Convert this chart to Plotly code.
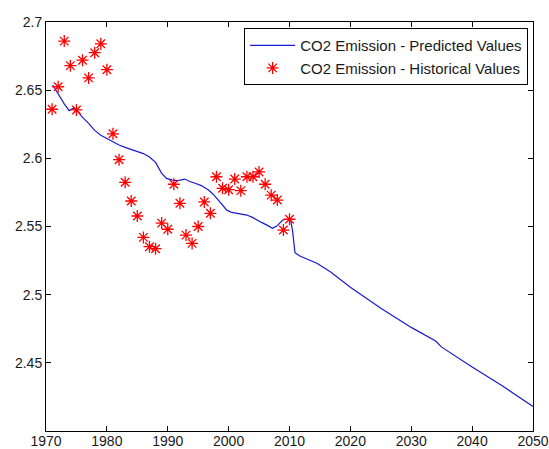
import plotly.graph_objects as go

# Historical CO2 emission values
hist_years = list(range(1971, 2011))
hist_values = [
    2.636, 2.6525, 2.686, 2.668, 2.6355, 2.672, 2.659, 2.6775, 2.684, 2.665,
    2.618, 2.599, 2.5824, 2.5687, 2.5577, 2.542, 2.5352, 2.5337, 2.5525, 2.548,
    2.581, 2.567, 2.5437, 2.5376, 2.550, 2.568, 2.5597, 2.5865, 2.578, 2.577,
    2.5848, 2.5763, 2.5865, 2.5865, 2.590, 2.581, 2.573, 2.5694, 2.5474, 2.5553,
]

# Predicted CO2 emission values
pred_years = [
    1971.1, 1972, 1973, 1973.8, 1974.5, 1975, 1976, 1977, 1978, 1979, 1980,
    1981, 1982, 1983, 1984, 1985, 1986, 1987, 1988, 1989, 1989.8, 1990.8,
    1991.7, 1992.8, 1993.6, 1994.5, 1995.5, 1996.7, 1997.5, 1998.3, 1999, 1999.7,
    2000.5, 2001.3, 2002, 2003, 2004, 2004.6, 2005.4, 2006.3, 2007.2, 2007.9,
    2008.9, 2009.5, 2010.2, 2010.5, 2010.9, 2011.7, 2014.5, 2016.7, 2020, 2025,
    2030, 2034, 2035, 2040, 2045, 2050,
]
pred_values = [
    2.6538, 2.647, 2.640, 2.635, 2.6367, 2.6355, 2.6300, 2.6257, 2.6205, 2.617, 2.6145,
    2.6125, 2.6098, 2.608, 2.6065, 2.605, 2.6035, 2.601, 2.597, 2.589, 2.5853, 2.5840,
    2.5836, 2.5848, 2.5830, 2.5817, 2.5800, 2.5768, 2.5735, 2.5694, 2.5655, 2.562,
    2.5603, 2.5597, 2.5592, 2.5584, 2.5565, 2.5548, 2.5530, 2.551, 2.5487, 2.5503,
    2.5548, 2.5553, 2.5543, 2.547, 2.5308, 2.5283, 2.523, 2.5168, 2.5055, 2.490,
    2.4760, 2.4660, 2.4615, 2.4470, 2.4330, 2.418,
]

x_ticks = [1970, 1980, 1990, 2000, 2010, 2020, 2030, 2040, 2050]
y_ticks = [2.45, 2.5, 2.55, 2.6, 2.65, 2.7]
y_tick_text = ["2.45", "2.5", "2.55", "2.6", "2.65", "2.7"]

fig = go.Figure()
fig.add_trace(go.Scatter(
    x=pred_years, y=pred_values, mode="lines",
    name="CO2 Emission - Predicted Values",
    line=dict(color="#1a1ad0", width=1.2),
))
fig.add_trace(go.Scatter(
    x=hist_years, y=hist_values, mode="markers",
    name="CO2 Emission - Historical Values",
    marker=dict(symbol="asterisk-open", size=10, color="#ff0000",
                line=dict(color="#ff0000", width=1.3)),
))

axis_common = dict(
    showgrid=False, zeroline=False, showline=True, linecolor="#000000",
    linewidth=1, mirror="ticks", ticks="inside", ticklen=5, tickcolor="#000000",
    automargin=False,
    tickfont=dict(family="Liberation Sans, Arial, sans-serif", size=14, color="#1a1a1a"),
)

fig.update_xaxes(range=[1970, 2050], tickvals=x_ticks, ticklabelstandoff=-3, **axis_common)
fig.update_yaxes(range=[2.4, 2.7], tickvals=y_ticks, ticktext=y_tick_text, **axis_common)

fig.update_layout(
    width=549, height=449,
    margin=dict(l=46, r=16, t=22, b=18, autoexpand=False),
    paper_bgcolor="#ffffff", plot_bgcolor="#ffffff",
    showlegend=True,
    legend=dict(
        x=0.99, y=0.985, xanchor="right", yanchor="top",
        bgcolor="#ffffff", bordercolor="#000000", borderwidth=1,
        font=dict(family="Liberation Sans, Arial, sans-serif", size=15, color="#1a1a1a"),
        itemwidth=45, tracegroupgap=0,
    ),
)

fig.write_html(
    "out.html",
    config={"displayModeBar": False},
    post_script="document.body.style.margin='0';document.body.style.overflow='hidden';",
)
